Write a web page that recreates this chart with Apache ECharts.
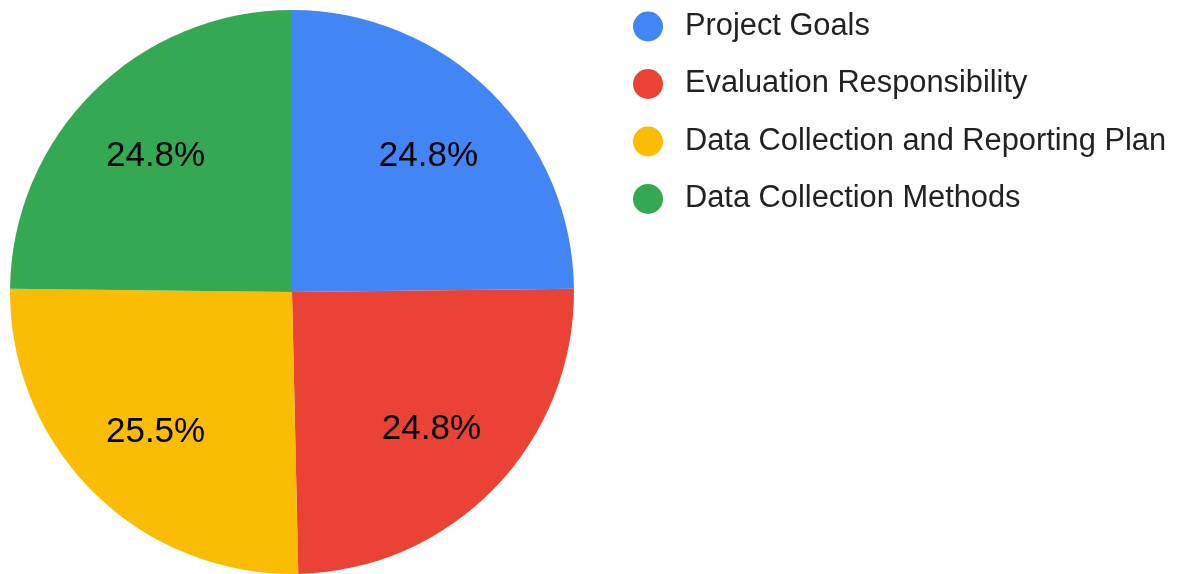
<!DOCTYPE html>
<html>
<head>
<meta charset="utf-8">
<script src="https://cdn.jsdelivr.net/npm/echarts@6/dist/echarts.min.js"></script>
<style>
  html, body { margin: 0; padding: 0; background: #fff; }
  #chart { width: 1179px; height: 574px; }
</style>
</head>
<body>
<div id="chart"></div>
<script>
let categories = ['Project Goals', 'Evaluation Responsibility', 'Data Collection and Reporting Plan', 'Data Collection Methods'];
let counts = [35, 35, 36, 35];
let colors = ['#4285F4', '#EA4335', '#FBBC04', '#34A853'];

let total = counts.reduce(function (a, b) { return a + b; }, 0);
let pieData = categories.map(function (name, i) {
	return { name: name, value: counts[i], itemStyle: { color: colors[i] } };
});
// second ring only for the labels, so they sit further out than r/2
let labelData = categories.map(function (name, i) {
	return { name: name, value: counts[i] };
});

let chart = echarts.init(document.getElementById('chart'));

let option = {
	animation: false,
	textStyle: { fontFamily: 'Arial, "Liberation Sans", sans-serif' },
	legend: {
		orient: 'vertical',
		left: 628,
		top: 6,
		icon: 'circle',
		itemWidth: 30,
		itemHeight: 30,
		itemGap: 26.5,
		data: categories,
		textStyle: {
			fontSize: 30.8,
			lineHeight: 30,
			color: '#222222',
			padding: [0, 0, 0, 17]
		}
	},
	series: [{
		type: 'pie',
		center: [292, 292],
		radius: [0, 282],
		startAngle: 90,
		clockwise: true,
		data: pieData,
		label: { show: false },
		labelLine: { show: false },
		itemStyle: { borderWidth: 0 },
		emphasis: { disabled: true }
	}, {
		type: 'pie',
		center: [292, 292],
		radius: [100, 282],
		startAngle: 90,
		clockwise: true,
		silent: true,
		data: labelData,
		itemStyle: { color: 'rgba(0,0,0,0)', borderWidth: 0 },
		label: {
			show: true,
			position: 'inside',
			fontSize: 35,
			color: '#000000',
			offset: [0, 2],
			formatter: function (p) {
				return (p.value / total * 100).toFixed(1) + '%';
			}
		},
		labelLine: { show: false },
		emphasis: { disabled: true }
	}]
};

chart.setOption(option);
</script>
</body>
</html>
